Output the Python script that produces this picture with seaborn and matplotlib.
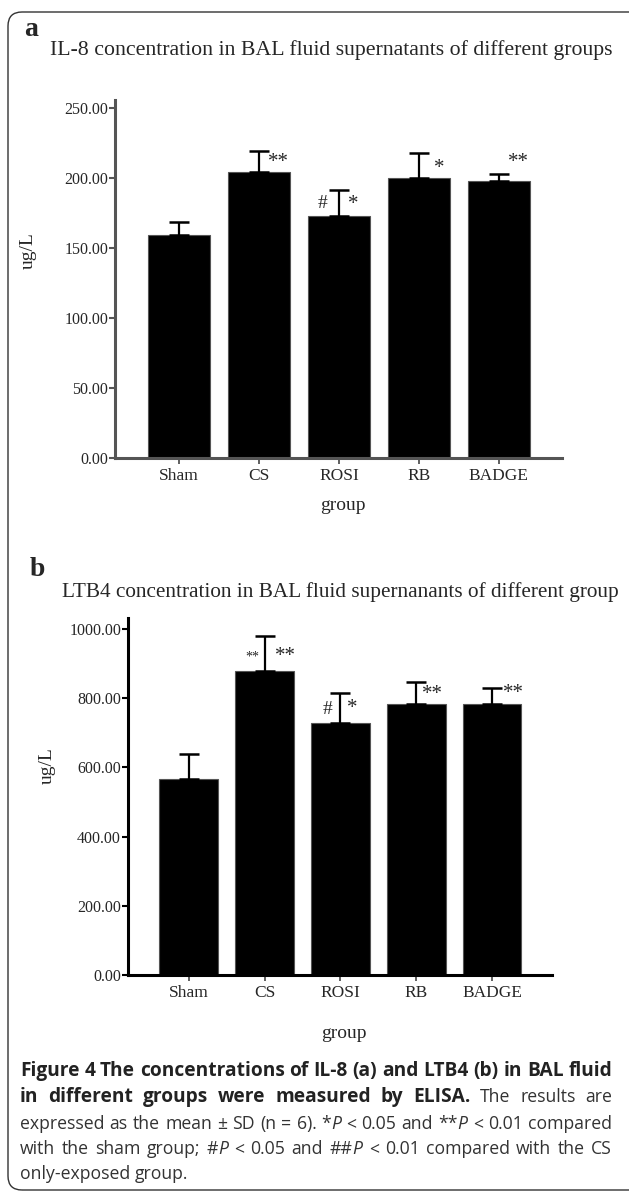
import numpy as np
import pandas as pd
import seaborn as sns
import matplotlib.pyplot as plt
import matplotlib.patches as mpatches
from matplotlib.ticker import FormatStrFormatter
from matplotlib.transforms import IdentityTransform

groups = ["Sham", "CS", "ROSI", "RB", "BADGE"]
il8_mean = [159, 204, 173, 200, 198]
il8_sd = [9.5, 15, 18.5, 18, 5]
ltb4_mean = [568, 880, 728, 784, 784]
ltb4_sd = [72, 100, 86, 62, 47]

# significance marks: (group index, text, x offset, y value, fontsize)
il8_marks = [(1, "**", 0.24, 211, 15), (2, "#", -0.21, 182, 14), (2, "*", 0.175, 181, 15),
             (3, "*", 0.25, 207, 15), (4, "**", 0.24, 211, 15)]
ltb4_marks = [(1, "**", -0.16, 918, 10), (1, "**", 0.28, 920, 15), (2, "#", -0.17, 767, 14),
              (2, "*", 0.155, 770, 15), (3, "**", 0.22, 810, 15), (4, "**", 0.28, 815, 15)]

W, H = 629, 1194

sns.set_style("ticks")
plt.rcParams["font.family"] = ["Liberation Serif", "DejaVu Serif"]

fig = plt.figure(figsize=(W / 100, H / 100), dpi=100)


def px_axes(left, top, right, bottom):
    return fig.add_axes([left / W, 1 - bottom / H, (right - left) / W, (bottom - top) / H])


def panel(ax, mean, sd, marks, ymax, ystep, spine_color, label_xy, group_y):
    df = pd.DataFrame({"group": groups, "value": mean})
    sns.barplot(data=df, x="group", y="value", color="black", saturation=1, width=0.775,
                errorbar=None, edgecolor="#555", linewidth=0.8, ax=ax)
    ax.errorbar(np.arange(len(groups)), mean, yerr=[np.zeros(len(sd)), sd], fmt="none",
                ecolor="black", elinewidth=1.6, capsize=7.2, capthick=1.8, zorder=5)
    for i, txt, dx, y, fs in marks:
        ax.text(i + dx, y, txt, ha="center", va="center", fontsize=fs)
    ax.set_xlim(-0.8, 4.79)
    ax.set_ylim(0, ymax)
    ax.set_yticks(np.arange(0, ymax, ystep))
    ax.yaxis.set_major_formatter(FormatStrFormatter("%.2f"))
    sns.despine(ax=ax)
    for s in ["left", "bottom"]:
        ax.spines[s].set_linewidth(2.2)
        ax.spines[s].set_color(spine_color)
    ax.tick_params(axis="y", direction="out", length=4, width=1.5, labelsize=11.5, pad=1,
                   color=spine_color)
    ax.tick_params(axis="x", direction="out", length=4, width=1.2, labelsize=12.5, pad=3,
                   color="#444")
    ax.set_ylabel("ug/L", fontsize=14)
    ax.yaxis.set_label_coords(*label_xy)
    ax.set_xlabel("group", fontsize=14)
    ax.xaxis.set_label_coords(0.51, group_y)


ax_a = px_axes(115, 100, 562, 458)
panel(ax_a, il8_mean, il8_sd, il8_marks, 255.7, 50, "#555", (-0.175, 0.58), -0.11)

ax_b = px_axes(128, 618, 552, 975)
panel(ax_b, ltb4_mean, ltb4_sd, ltb4_marks, 1032, 200, "black", (-0.17, 0.588), -0.14)

fig.text(24 / W, 1 - 30 / H, "a", fontsize=20, fontweight="bold", va="center", ha="left")
fig.text(50 / W, 1 - 50 / H, "IL-8 concentration in BAL fluid supernatants of different groups",
         fontsize=15.7, va="center", ha="left")
fig.text(30 / W, 1 - 570 / H, "b", fontsize=20, fontweight="bold", va="center", ha="left")
fig.text(62 / W, 1 - 592 / H, "LTB4 concentration in BAL fluid supernanants of different group",
         fontsize=15.3, va="center", ha="left")

# frame
frame = mpatches.FancyBboxPatch((8, 4), 660, 1178, boxstyle="round,pad=0,rounding_size=14",
                                transform=IdentityTransform(), facecolor="none",
                                edgecolor="#333", linewidth=1.0, clip_on=False)
fig.add_artist(frame)

# caption
caption = [
    [("Figure 4 The concentrations of IL-8 (a) and LTB4 (b) in BAL fluid", "bold")],
    [("in different groups were measured by ELISA.", "bold"), (" The results are", "normal")],
    [("expressed as the mean \u00b1 SD (n = 6). *", "normal"), ("P", "italic"),
     (" < 0.05 and **", "normal"), ("P", "italic"), (" < 0.01 compared", "normal")],
    [("with the sham group; #", "normal"), ("P", "italic"), (" < 0.05 and ##", "normal"),
     ("P", "italic"), (" < 0.01 compared with the CS", "normal")],
    [("only-exposed group.", "normal")],
]
cap_y = [1071, 1097, 1124, 1149, 1174]
cap_left, cap_right = 20, 612
cap_font = ["Open Sans", "DejaVu Sans"]

renderer = fig.canvas.get_renderer()
sizes = {}


def run_text(x, y, s, style, size=None):
    if size is None:
        size = sizes[style]
    kw = dict(fontsize=size, family=cap_font, va="center", ha="left",
              transform=IdentityTransform(), color="#222")
    if style == "bold":
        kw["fontweight"] = "bold"
    if style == "italic":
        kw["fontstyle"] = "italic"
        kw["color"] = "#333"
    if style == "normal":
        kw["color"] = "#333"
    t = fig.text(x, y, s, **kw)
    return t, t.get_window_extent(renderer=renderer).width


def measure(s, style, size):
    t, w = run_text(100, 100, s, style, size)
    t.remove()
    return w


col = cap_right - cap_left
# bold size fills the first line; regular size lets lines 3 and 4 fit with plain spaces
sizes["bold"] = 10 * col / measure(caption[0][0][0], "bold", 10)
reg = []
for runs in caption[2:4]:
    reg.append(10 * col * 0.985 / sum(measure(s, st, 10) for s, st in runs))
sizes["normal"] = sizes["italic"] = min(sizes["bold"], min(reg))
space = measure("a a", "normal", sizes["normal"]) - measure("aa", "normal", sizes["normal"])

for li, (runs, yy) in enumerate(zip(caption, cap_y)):
    words = [[]]
    for text, style in runs:
        parts = text.split(" ")
        for k, part in enumerate(parts):
            if k > 0:
                words.append([])
            if part:
                words[-1].append((part, style))
    words = [w for w in words if w]
    y = H - yy
    arts = []
    total = 0
    for w in words:
        wa = []
        ww = 0
        for s, st in w:
            t, tw = run_text(cap_left, y, s, st)
            wa.append((t, tw))
            ww += tw
        arts.append((wa, ww))
        total += ww
    if li < len(caption) - 1:
        gap = (col - total) / (len(words) - 1)
    else:
        gap = space
    x = cap_left
    for wa, ww in arts:
        for t, tw in wa:
            t.set_x(x)
            x += tw
        x += gap

fig.savefig("out.png", dpi=100)
